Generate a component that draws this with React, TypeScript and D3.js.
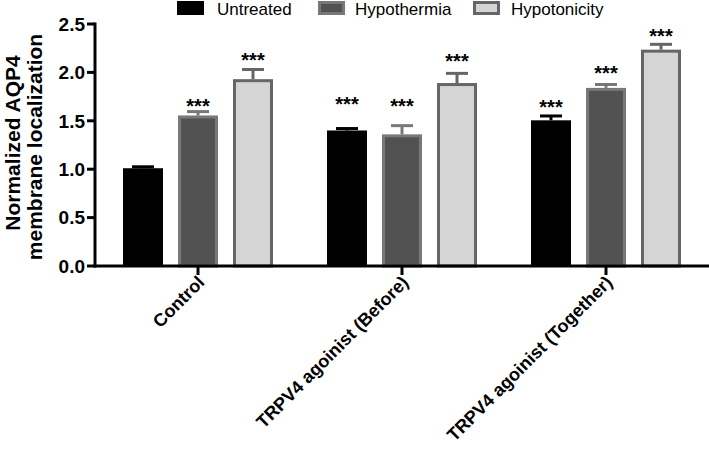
import React from "react";
import * as d3 from "d3";

const categories = ["Control", "TRPV4 agoinist (Before)", "TRPV4 agoinist (Together)"];
const seriesNames = ["Untreated", "Hypothermia", "Hypotonicity"];
const untreated = [1.01, 1.40, 1.505];
const hypothermia = [1.555, 1.36, 1.84];
const hypotonicity = [1.93, 1.89, 2.235];
const untreatedErr = [0.015, 0.02, 0.045];
const hypothermiaErr = [0.04, 0.09, 0.035];
const hypotonicityErr = [0.1, 0.1, 0.055];
const significance = [
  ["", "***", "***"],
  ["***", "***", "***"],
  ["***", "***", "***"],
];
// vertical level (data units) at which each significance marker is centred
const starLevels = [
  [0, 1.69, 2.17],
  [1.71, 1.69, 2.16],
  [1.68, 2.035, 2.42],
];
const yTicks = [0, 0.5, 1.0, 1.5, 2.0, 2.5];

const fills = ["#000000", "#525252", "#d5d5d5"];
const strokes = ["#000000", "#787878", "#666666"];
const FONT = "Arial, 'Liberation Sans', Helvetica, sans-serif";

export default function App() {
  const W = 709, H = 450;
  const y = d3.scaleLinear().domain([0, 2.5]).range([266, 24]);
  const x0 = d3.scaleBand<string>().domain(categories).range([96, 708]).padding(0);
  const x1 = d3.scaleBand<string>().domain(seriesNames).range([0, 150]).paddingInner(15 / 55).paddingOuter(0);
  const values = [untreated, hypothermia, hypotonicity];
  const errs = [untreatedErr, hypothermiaErr, hypotonicityErr];
  const bw = x1.bandwidth();

  const legendItems = [
    { name: "Untreated", sx: 177, tx: 217 },
    { name: "Hypothermia", sx: 318, tx: 355 },
    { name: "Hypotonicity", sx: 473, tx: 511 },
  ];

  return (
    <svg width={W} height={H} style={{ position: "absolute", left: 0, top: 0, background: "#fff" }}>
      <rect x={0} y={0} width={W} height={H} fill="#fff" />
      {/* bars */}
      {categories.map((c, ci) => {
        const gx = x0(c)! + x0.bandwidth() / 2 - 75;
        return (
          <g key={c}>
            {seriesNames.map((s, si) => {
              const v = values[si][ci];
              const e = errs[si][ci];
              const bx = gx + x1(s)!;
              const cx = bx + bw / 2;
              const top = y(v);
              const capY = y(v + e);
              const sw = si === 0 ? 0 : 3;
              return (
                <g key={s}>
                  <line x1={cx} x2={cx} y1={top} y2={capY} stroke={strokes[si]} strokeWidth={3} />
                  <line x1={cx - 11} x2={cx + 11} y1={capY} y2={capY} stroke={strokes[si]} strokeWidth={3} />
                  <rect
                    x={bx + sw / 2}
                    y={top + sw / 2}
                    width={bw - sw}
                    height={y(0) - top - sw / 2}
                    fill={fills[si]}
                    stroke={si === 0 ? "none" : strokes[si]}
                    strokeWidth={sw}
                  />
                  {significance[ci][si] && (
                    <text x={cx} y={y(starLevels[ci][si]) + 11} textAnchor="middle" fontFamily={FONT} fontWeight="bold" fontSize={20} fill="#000">
                      {significance[ci][si]}
                    </text>
                  )}
                </g>
              );
            })}
          </g>
        );
      })}
      {/* y axis */}
      <line x1={95} x2={95} y1={y(2.5) - 1.5} y2={y(0) + 1.5} stroke="#000" strokeWidth={3} />
      {yTicks.map((t) => (
        <g key={t}>
          <line x1={87} x2={95} y1={y(t)} y2={y(t)} stroke="#000" strokeWidth={3} />
          <text x={85} y={y(t)} dy="0.36em" textAnchor="end" fontFamily={FONT} fontWeight="bold" fontSize={19} fill="#000">
            {t.toFixed(1)}
          </text>
        </g>
      ))}
      {/* x axis */}
      <line x1={94} x2={709} y1={y(0)} y2={y(0)} stroke="#000" strokeWidth={3} />
      {categories.map((c) => {
        const cx = x0(c)! + x0.bandwidth() / 2;
        return (
          <g key={c}>
            <line x1={cx} x2={cx} y1={y(0)} y2={y(0) + 9} stroke="#000" strokeWidth={3} />
            <text
              transform={`translate(${cx + 3},${y(0) + 13}) rotate(-45)`}
              textAnchor="end"
              dy="0.35em"
              fontFamily={FONT}
              fontWeight="bold"
              fontSize={18}
              fill="#000"
            >
              {c}
            </text>
          </g>
        );
      })}
      {/* y label */}
      <g transform="translate(0,145) rotate(-90)">
        <text x={2} y={20} textAnchor="middle" fontFamily={FONT} fontWeight="bold" fontSize={21} fill="#000">
          Normalized AQP4
        </text>
        <text x={-2} y={42} textAnchor="middle" fontFamily={FONT} fontWeight="bold" fontSize={21} fill="#000">
          membrane localization
        </text>
      </g>
      {/* legend */}
      {legendItems.map((l, i) => (
        <g key={l.name}>
          <rect
            x={l.sx + (i === 0 ? 0 : 1.5)}
            y={1 + (i === 0 ? 0 : 1.5)}
            width={27 - (i === 0 ? 0 : 3)}
            height={14 - (i === 0 ? 0 : 3)}
            fill={fills[i]}
            stroke={i === 0 ? "none" : strokes[i]}
            strokeWidth={i === 0 ? 0 : 3}
          />
          <text x={l.tx} y={15} fontFamily={FONT} fontSize={17} fill="#000">
            {l.name}
          </text>
        </g>
      ))}
    </svg>
  );
}
